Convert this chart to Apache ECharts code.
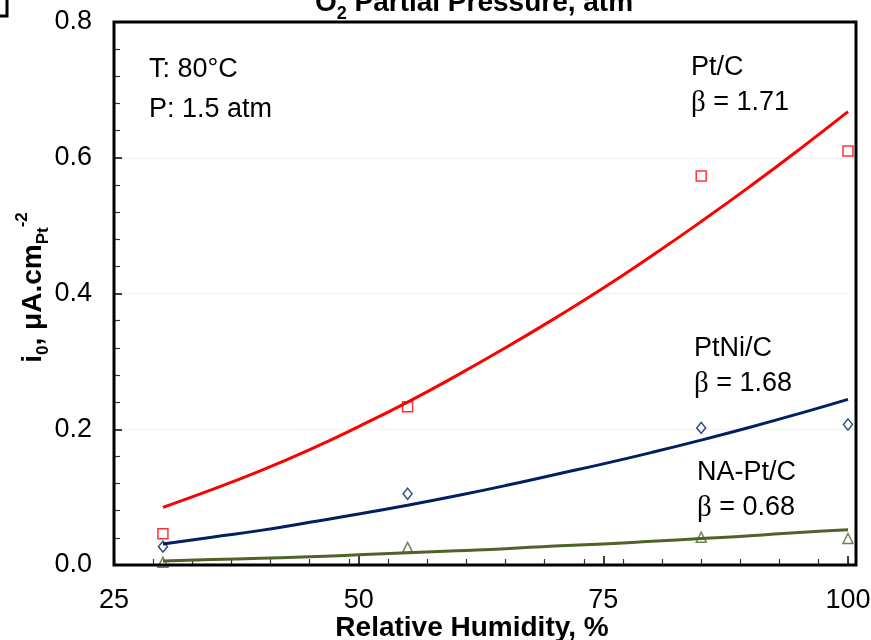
<!DOCTYPE html>
<html>
<head>
<meta charset="utf-8">
<script src="https://cdn.jsdelivr.net/npm/echarts@6/dist/echarts.min.js"></script>
<style>
  html, body { margin: 0; padding: 0; background: #fff; }
  #chart { width: 871px; height: 640px; }
</style>
</head>
<body>
<div id="chart"></div>
<script>
// measured points (relative humidity, %)
const humidity = [30, 55, 85, 100];
const ptC = [0.046, 0.233, 0.573, 0.610];
const ptNiC = [0.027, 0.105, 0.202, 0.207];
const naPtC = [0.004, 0.026, 0.041, 0.039];

// fitted curves, every 5 %RH
const fitHumidity = [30, 35, 40, 45, 50, 55, 60, 65, 70, 75, 80, 85, 90, 95, 100];
const ptCFit = [0.085, 0.111, 0.139, 0.170, 0.204, 0.240, 0.279, 0.320, 0.363, 0.408, 0.456, 0.506, 0.558, 0.612, 0.668];
const ptNiCFit = [0.031, 0.041, 0.051, 0.063, 0.075, 0.088, 0.102, 0.117, 0.133, 0.149, 0.166, 0.184, 0.203, 0.223, 0.244];
const naPtCFit = [0.006, 0.008, 0.010, 0.012, 0.015, 0.018, 0.021, 0.024, 0.028, 0.031, 0.035, 0.039, 0.043, 0.048, 0.052];

const xTicks = [25, 50, 75, 100];
const yTicks = [0, 0.2, 0.4, 0.6, 0.8];

const FONT = "'Liberation Sans', Arial, sans-serif";
const RED = "#ff0000";
const NAVY = "#002060";
const OLIVE = "#4f6228";

const pairs = (xs, ys) => xs.map((x, i) => [x, ys[i]]);

const chart = echarts.init(document.getElementById("chart"));

function label(x, y, text) {
  return {
    type: "text",
    x: x,
    y: y,
    z: 10,
    style: {
      text: text,
      fill: "#000",
      verticalAlign: "middle",
      rich: {
        n: { fontFamily: FONT, fontSize: 27 },
        g: { fontFamily: "'Liberation Serif', serif", fontSize: 29 },
      },
    },
  };
}

const option = {
  animation: false,
  grid: {
    left: 114,
    right: 23,
    top: 22,
    bottom: 75,
    containLabel: false,
    outerBoundsMode: "none",
  },
  xAxis: [
    {
      type: "value",
      min: xTicks[0],
      max: xTicks[xTicks.length - 1],
      interval: 25,
      name: "Relative Humidity, %",
      nameLocation: "middle",
      nameGap: 49,
      nameMoveOverlap: false,
      nameTextStyle: {
        fontFamily: FONT,
        fontSize: 28,
        fontWeight: "bold",
        color: "#000",
        padding: [0, 18, 0, 0],
      },
      axisLine: { show: false },
      axisTick: { inside: true, length: 9, lineStyle: { color: "#000", width: 1.5 } },
      axisLabel: {
        margin: 22,
        fontFamily: FONT,
        fontSize: 27,
        color: "#000",
        showMinLabel: true,
        showMaxLabel: true,
      },
      splitLine: { show: false },
    },
    {
      // minor ticks every 4 %RH as in the original plot
      type: "value",
      min: 25,
      max: 100,
      interval: 4,
      position: "bottom",
      axisLine: { show: false },
      axisTick: { inside: true, length: 6, lineStyle: { color: "#333", width: 1.2 } },
      axisLabel: { show: false },
      splitLine: { show: false },
    },
  ],
  yAxis: {
    type: "value",
    min: yTicks[0],
    max: yTicks[yTicks.length - 1],
    interval: 0.2,
    name: "{b|i}{s|0}{b|, μA.cm}{s|Pt}{p|-2}",
    nameLocation: "middle",
    nameGap: 62,
    nameMoveOverlap: false,
    nameTextStyle: {
      color: "#000",
      padding: [0, 0, 0, 12],
      rich: {
        b: { fontFamily: FONT, fontSize: 28, fontWeight: "bold", lineHeight: 38, verticalAlign: "middle" },
        s: { fontFamily: FONT, fontSize: 17, fontWeight: "bold", lineHeight: 38, verticalAlign: "bottom" },
        p: { fontFamily: FONT, fontSize: 17, fontWeight: "bold", lineHeight: 38, verticalAlign: "top" },
      },
    },
    axisLine: { show: false },
    axisTick: { inside: true, length: 8, lineStyle: { color: "#000", width: 1.5 } },
    minorTick: { show: true, splitNumber: 5, length: 6, lineStyle: { color: "#333", width: 1.2 } },
    axisLabel: {
      margin: 22,
      fontFamily: FONT,
      fontSize: 27,
      color: "#000",
      formatter: (v) => v.toFixed(1),
    },
    splitLine: { show: true, lineStyle: { color: "#f0f0f0", width: 1 } },
  },
  graphic: [
    {
      type: "rect",
      z: 20,
      shape: { x: 114, y: 22, width: 742, height: 543 },
      style: { fill: "none", stroke: "#000", lineWidth: 3 },
    },
    {
      type: "polyline",
      shape: { points: [[0, 16], [7, 16], [7, 0]] },
      style: { fill: "none", stroke: "#000", lineWidth: 3 },
    },
    {
      type: "text",
      x: 474,
      y: 3,
      style: {
        text: "{b|O}{s|2}{b| Partial Pressure, atm}",
        align: "center",
        verticalAlign: "middle",
        fill: "#000",
        rich: {
          b: { fontFamily: FONT, fontSize: 28, fontWeight: "bold", lineHeight: 40, verticalAlign: "middle" },
          s: { fontFamily: FONT, fontSize: 18, fontWeight: "bold", lineHeight: 40, verticalAlign: "bottom" },
        },
      },
    },
    label(149, 70, "{n|T: 80°C}"),
    label(149, 110, "{n|P: 1.5 atm}"),
    label(691, 68, "{n|Pt/C}"),
    label(691, 103, "{g|β}{n| = 1.71}"),
    label(694, 349, "{n|PtNi/C}"),
    label(694, 384, "{g|β}{n| = 1.68}"),
    label(697, 473, "{n|NA-Pt/C}"),
    label(697, 508, "{g|β}{n| = 0.68}"),
  ],
  series: [
    {
      name: "Pt/C fit",
      type: "line",
      data: pairs(fitHumidity, ptCFit),
      smooth: true,
      showSymbol: false,
      lineStyle: { color: RED, width: 3 },
      z: 2,
    },
    {
      name: "PtNi/C fit",
      type: "line",
      data: pairs(fitHumidity, ptNiCFit),
      smooth: true,
      showSymbol: false,
      lineStyle: { color: NAVY, width: 3 },
      z: 2,
    },
    {
      name: "NA-Pt/C fit",
      type: "line",
      data: pairs(fitHumidity, naPtCFit),
      smooth: true,
      showSymbol: false,
      lineStyle: { color: OLIVE, width: 3 },
      z: 2,
    },
    {
      name: "Pt/C",
      type: "scatter",
      data: pairs(humidity, ptC),
      symbol: "rect",
      symbolSize: 10,
      itemStyle: { color: "rgba(255,255,255,0)", borderColor: RED, borderWidth: 1.5 },
      z: 3,
    },
    {
      name: "PtNi/C",
      type: "scatter",
      data: pairs(humidity, ptNiC),
      symbol: "diamond",
      symbolSize: [9, 11],
      itemStyle: { color: "rgba(255,255,255,0)", borderColor: NAVY, borderWidth: 1.5 },
      z: 3,
    },
    {
      name: "NA-Pt/C",
      type: "scatter",
      data: pairs(humidity, naPtC),
      symbol: "triangle",
      symbolSize: 10,
      itemStyle: { color: "rgba(255,255,255,0)", borderColor: OLIVE, borderWidth: 1.5 },
      z: 3,
    },
  ],
};

chart.setOption(option);
</script>
</body>
</html>
